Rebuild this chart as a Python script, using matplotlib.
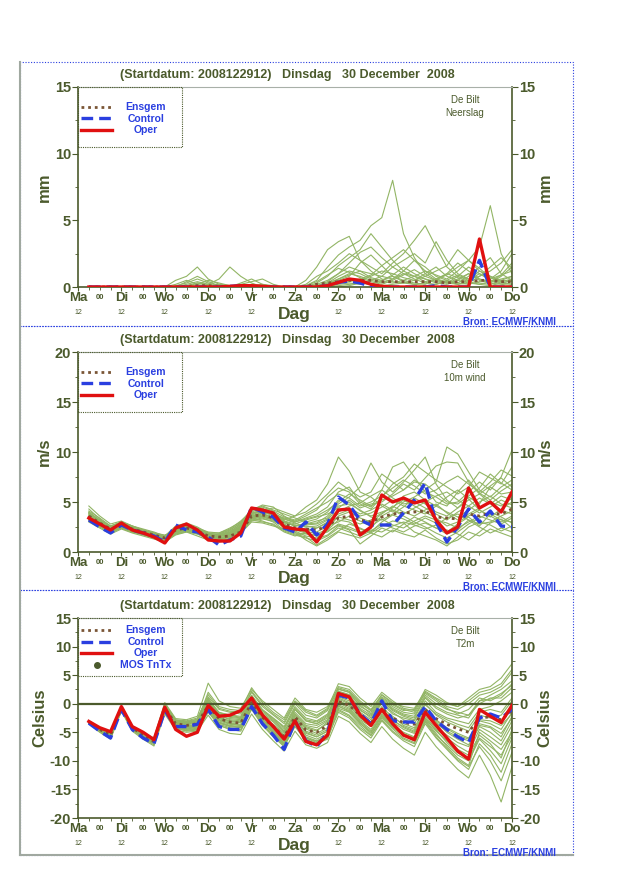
import numpy as np
import matplotlib
matplotlib.use("Agg")
import matplotlib.pyplot as plt
from matplotlib.patches import Rectangle
from matplotlib.lines import Line2D

plt.rcParams['font.family'] = ['Liberation Sans', 'DejaVu Sans']
plt.rcParams['axes.unicode_minus'] = False

# ---------------- data ----------------
hours = np.arange(6, 241, 6)          # 6-hourly steps after 2008122912
day_names = ["Ma", "Di", "Wo", "Do", "Vr", "Za", "Zo", "Ma", "Di", "Wo", "Do"]

# neerslag (mm)
rain_oper = [0, 0, 0, 0, 0, 0, 0, 0, 0, 0, 0, 0, 0, 0.05, 0.1, 0.1, 0.05, 0, 0, 0,
             0, 0, 0.1, 0.35, 0.6, 0.5, 0.2, 0.05, 0, 0, 0, 0, 0, 0, 0, 0, 3.6, 0, 0, 0]
rain_ctrl = [0, 0, 0, 0, 0, 0, 0, 0, 0, 0, 0, 0, 0, 0.05, 0.1, 0.05, 0, 0, 0, 0,
             0, 0, 0.1, 0.35, 0.45, 0.3, 0.05, 0, 0, 0, 0, 0, 0.1, 0, 0, 0, 2.0, 0, 0, 0]
rain_mean = [0, 0, 0, 0, 0, 0, 0, 0, 0, 0.05, 0.1, 0.1, 0.05, 0.05, 0.05, 0.05, 0.05, 0, 0, 0,
             0.05, 0.2, 0.3, 0.4, 0.5, 0.5, 0.5, 0.4, 0.4, 0.4, 0.4, 0.4, 0.4, 0.3, 0.4, 0.4, 0.5, 0.5, 0.4, 0.4]
rain_members = [
    [0, 0, 0, 0, 0, 0, 0, 0, 0, 0.1, 0.3, 0.1, 0, 0, 0.1, 0.2, 0.1, 0, 0, 0, 0.1, 0.5, 1.5, 2.4, 3.0, 3.5, 4.6, 5.2, 8.0, 4.0, 2.2, 1.0, 0.5, 0.3, 0.2, 0.5, 1.2, 0.8, 0.4, 0.2],
    [0, 0, 0, 0, 0, 0, 0, 0, 0.2, 0.5, 0.2, 0, 0, 0, 0, 0, 0, 0, 0, 0, 0, 0, 0.2, 0.6, 1.0, 0.8, 0.5, 0.3, 0.6, 1.0, 0.8, 0.4, 0.6, 0.9, 1.5, 2.0, 3.0, 6.1, 2.5, 1.0],
    [0, 0, 0, 0, 0, 0, 0, 0, 0, 0, 0.2, 0.5, 0.3, 0.1, 0, 0, 0, 0, 0, 0, 0.2, 0.8, 1.2, 1.8, 2.5, 2.0, 1.5, 1.0, 1.8, 2.5, 3.5, 4.6, 3.0, 1.5, 0.8, 0.5, 1.0, 0.6, 1.2, 2.5],
    [0, 0, 0, 0, 0, 0, 0, 0, 0, 0, 0, 0, 0, 0, 0.3, 0.6, 0.2, 0, 0, 0, 0, 0.3, 0.8, 1.6, 2.2, 2.8, 4.0, 3.0, 2.0, 1.2, 0.8, 0.6, 0.4, 0.3, 0.8, 1.5, 1.0, 0.5, 0.3, 0.2],
    [0, 0, 0, 0, 0, 0, 0, 0, 0, 0.4, 0.8, 0.4, 0.1, 0, 0, 0, 0, 0, 0, 0, 0.5, 1.5, 2.8, 3.4, 3.8, 2.0, 1.2, 0.6, 0.4, 0.3, 0.5, 1.0, 1.5, 0.8, 0.5, 0.3, 0.2, 0.4, 0.6, 0.8],
    [0, 0, 0, 0, 0, 0, 0, 0, 0, 0, 0, 0.2, 0.6, 1.5, 0.8, 0.3, 0, 0, 0, 0, 0, 0, 0.3, 0.6, 0.9, 1.2, 1.0, 0.8, 1.5, 2.0, 2.5, 1.8, 3.4, 2.0, 1.0, 0.6, 0.8, 1.2, 1.8, 2.8],
    [0, 0, 0, 0, 0, 0, 0, 0, 0, 0, 0, 0, 0, 0, 0, 0, 0, 0, 0, 0, 0, 0, 0.1, 0.4, 0.6, 0.5, 0.8, 1.2, 1.0, 0.7, 0.5, 0.8, 1.2, 1.6, 2.8, 2.0, 1.2, 0.8, 0.5, 0.4],
    [0, 0, 0, 0, 0, 0, 0, 0, 0.5, 0.8, 1.5, 0.6, 0.2, 0, 0, 0, 0, 0, 0, 0, 0, 0.2, 0.5, 1.0, 1.8, 2.6, 3.0, 2.2, 1.5, 1.0, 0.6, 0.3, 0.2, 0.5, 0.9, 0.6, 0.3, 0.2, 0.5, 0.8],
    [0, 0, 0, 0, 0, 0, 0, 0, 0, 0, 0, 0, 0, 0, 0.2, 0.4, 0.6, 0.2, 0, 0, 0, 0, 0, 0.2, 0.3, 0.2, 0.5, 0.8, 0.6, 1.2, 2.0, 1.5, 0.8, 0.5, 0.3, 0.8, 1.5, 2.2, 1.0, 0.5],
    [0, 0, 0, 0, 0, 0, 0, 0, 0, 0, 0, 0, 0, 0, 0, 0, 0, 0, 0, 0, 0, 0, 0, 0.1, 0.2, 0.3, 0.2, 0.1, 0.2, 0.3, 0.2, 0.1, 0.2, 0.4, 0.3, 0.2, 0.4, 0.6, 0.9, 1.2],
    [0, 0, 0, 0, 0, 0, 0, 0, 0, 0, 0.3, 0.2, 0, 0, 0, 0, 0, 0, 0, 0, 0, 0.1, 0.4, 1.0, 1.5, 1.2, 0.7, 0.5, 0.9, 1.5, 1.0, 0.6, 0.3, 0.2, 0.5, 1.0, 0.6, 0.3, 0.8, 1.5],
    [0, 0, 0, 0, 0, 0, 0, 0, 0, 0, 0, 0, 0, 0, 0, 0, 0, 0, 0, 0, 0, 0, 0, 0, 0.1, 0.3, 0.2, 0.5, 0.8, 0.5, 0.3, 0.2, 0.6, 1.0, 0.7, 0.4, 0.2, 0.1, 0.3, 0.5],
    [0, 0, 0, 0, 0, 0, 0, 0, 0, 0.2, 0.4, 0.2, 0, 0, 0, 0, 0, 0, 0, 0, 0, 0.1, 0.3, 0.8, 1.2, 1.0, 0.6, 0.4, 0.3, 0.5, 0.8, 1.2, 0.9, 0.6, 1.2, 2.0, 1.4, 0.7, 0.4, 0.6],
    [0, 0, 0, 0, 0, 0, 0, 0, 0, 0, 0, 0.1, 0.2, 0.1, 0, 0, 0, 0, 0, 0, 0, 0, 0.2, 0.5, 0.8, 1.8, 2.4, 1.6, 0.8, 0.4, 0.2, 0.3, 0.6, 0.4, 0.2, 0.3, 0.8, 1.5, 2.2, 1.4],
    [0, 0, 0, 0, 0, 0, 0, 0, 0, 0, 0, 0, 0, 0, 0, 0.1, 0.2, 0.1, 0, 0, 0, 0, 0.1, 0.3, 0.4, 0.6, 0.9, 1.6, 2.2, 2.8, 2.0, 1.2, 0.6, 0.3, 0.6, 1.0, 0.5, 0.3, 0.2, 0.1],
    [0, 0, 0, 0, 0, 0, 0, 0, 0.1, 0.3, 0.6, 0.3, 0.1, 0, 0, 0, 0, 0, 0, 0, 0.1, 0.4, 0.9, 1.4, 1.1, 0.7, 0.4, 0.2, 0.5, 0.9, 1.3, 0.8, 0.5, 1.0, 1.8, 1.2, 0.6, 0.4, 0.9, 1.8],
]

# 10m wind (m/s)
wind_oper = [3.4, 2.8, 2.2, 2.9, 2.2, 1.9, 1.5, 0.9, 2.4, 2.8, 2.2, 1.2, 1.1, 1.1, 1.9, 4.4, 4.2, 3.9, 2.5, 2.3,
             2.2, 1.0, 2.5, 4.2, 4.3, 1.7, 2.5, 5.7, 5.0, 5.4, 4.9, 5.2, 3.2, 1.9, 2.5, 6.4, 4.4, 5.0, 4.0, 6.0]
wind_ctrl = [3.2, 2.5, 1.9, 2.7, 2.2, 1.9, 1.6, 1.0, 2.7, 2.2, 2.0, 1.5, 0.7, 1.2, 1.6, 4.5, 4.0, 3.5, 2.4, 2.0,
             3.0, 1.7, 2.8, 5.5, 4.7, 3.2, 2.7, 2.7, 2.7, 3.9, 5.2, 6.9, 3.0, 1.0, 2.5, 4.3, 3.0, 4.1, 2.6, 2.5]
wind_mean = [3.6, 2.9, 2.3, 2.7, 2.3, 2.0, 1.7, 1.4, 2.2, 2.4, 2.1, 1.6, 1.5, 1.6, 2.0, 3.6, 3.7, 3.4, 2.8, 2.4,
             2.3, 2.2, 2.6, 3.4, 3.6, 3.2, 3.0, 3.5, 3.8, 3.9, 4.0, 4.1, 3.5, 3.4, 3.3, 3.8, 3.6, 3.9, 3.8, 4.3]
wind_members = [
    [3.8, 3.0, 2.4, 2.9, 2.5, 2.2, 1.8, 1.3, 2.0, 2.6, 2.4, 1.8, 1.6, 1.9, 2.6, 3.8, 4.3, 4.0, 3.2, 3.6, 4.5, 5.2, 6.8, 9.5, 8.1, 6.0, 5.5, 4.6, 4.0, 5.0, 5.5, 6.2, 7.0, 10.5, 9.8, 8.0, 6.2, 5.5, 6.5, 7.2],
    [3.3, 2.6, 2.0, 2.5, 2.1, 1.7, 1.4, 1.2, 1.9, 2.1, 1.8, 1.3, 1.0, 1.4, 2.2, 3.2, 3.4, 3.0, 2.2, 1.8, 1.5, 0.7, 1.4, 2.1, 2.8, 2.4, 1.9, 2.6, 3.1, 2.9, 2.0, 1.6, 1.2, 0.6, 1.5, 2.5, 3.0, 2.7, 2.1, 2.6],
    [4.6, 3.6, 2.8, 3.1, 2.6, 2.2, 1.9, 1.6, 2.3, 2.8, 2.4, 2.0, 1.9, 2.4, 3.0, 4.2, 4.7, 4.5, 3.6, 3.0, 3.4, 3.8, 4.5, 6.0, 6.5, 5.0, 4.5, 6.2, 8.5, 9.0, 7.5, 6.0, 5.5, 4.8, 5.0, 6.0, 7.0, 6.2, 7.5, 10.2],
    [3.0, 2.4, 1.8, 2.3, 1.9, 1.6, 1.3, 1.0, 1.7, 2.0, 1.6, 1.2, 1.3, 1.7, 2.4, 3.4, 3.1, 2.7, 2.0, 1.6, 1.9, 1.3, 1.7, 2.6, 2.2, 0.8, 1.6, 2.4, 2.0, 2.8, 3.5, 3.0, 2.4, 2.2, 1.8, 1.2, 2.0, 2.9, 3.3, 2.4],
    [3.5, 2.8, 2.2, 2.7, 2.4, 2.0, 1.5, 1.4, 2.5, 2.7, 2.2, 1.6, 1.8, 2.2, 2.9, 4.0, 4.4, 3.6, 3.0, 2.6, 2.8, 2.9, 3.6, 4.8, 5.5, 6.5, 8.9, 7.0, 6.0, 7.0, 8.2, 9.5, 6.8, 5.2, 4.4, 5.5, 4.8, 6.5, 5.8, 6.0],
    [3.9, 3.2, 2.5, 2.8, 2.3, 2.1, 1.9, 1.7, 2.1, 2.3, 2.0, 1.7, 1.6, 1.8, 2.2, 3.5, 3.9, 3.7, 3.3, 2.9, 2.5, 2.6, 3.2, 3.8, 4.2, 3.6, 3.9, 4.5, 5.2, 4.6, 4.2, 3.8, 4.6, 5.5, 6.2, 5.3, 4.2, 3.5, 4.3, 5.0],
    [3.2, 2.7, 2.1, 2.4, 2.0, 1.8, 1.6, 1.1, 2.2, 2.4, 2.1, 1.4, 1.2, 1.5, 2.6, 3.7, 3.5, 3.2, 2.6, 2.1, 1.6, 1.4, 2.2, 3.2, 3.0, 2.3, 2.0, 3.0, 3.7, 3.3, 2.8, 3.4, 2.9, 2.0, 2.8, 3.5, 2.6, 3.8, 3.2, 3.0],
    [4.1, 3.4, 2.6, 3.0, 2.5, 2.0, 1.7, 1.5, 2.4, 2.5, 2.3, 1.9, 1.7, 2.0, 2.8, 3.9, 4.0, 3.8, 3.4, 3.1, 3.6, 4.2, 5.5, 6.4, 6.0, 4.8, 4.3, 5.5, 6.8, 7.5, 8.8, 8.0, 7.2, 6.5, 5.8, 6.5, 8.0, 7.4, 6.8, 8.5],
    [3.4, 2.7, 2.3, 2.6, 2.2, 1.9, 1.6, 1.2, 2.0, 2.2, 1.9, 1.5, 1.4, 1.6, 2.0, 3.1, 3.3, 3.1, 2.5, 2.2, 2.4, 2.0, 2.6, 3.0, 3.6, 3.1, 2.6, 3.3, 2.7, 2.4, 3.1, 3.6, 3.2, 2.9, 2.4, 3.0, 3.6, 3.2, 2.8, 3.4],
    [3.7, 2.9, 2.3, 2.8, 2.4, 2.0, 1.8, 1.6, 2.6, 2.9, 2.5, 1.9, 1.9, 2.3, 3.1, 4.1, 4.6, 4.2, 3.8, 3.4, 3.0, 3.3, 4.0, 5.2, 5.0, 4.1, 3.6, 4.0, 4.4, 5.6, 6.0, 5.2, 4.6, 4.0, 3.5, 4.2, 5.0, 5.6, 4.8, 4.4],
    [3.1, 2.5, 1.9, 2.4, 2.0, 1.7, 1.5, 1.1, 1.8, 2.1, 1.9, 1.3, 1.1, 1.3, 1.9, 3.0, 2.9, 2.6, 2.3, 2.0, 1.2, 0.6, 1.2, 2.0, 1.7, 1.4, 1.9, 1.5, 2.2, 1.8, 1.5, 2.2, 1.4, 0.8, 1.2, 2.0, 1.6, 2.3, 1.9, 1.5],
    [3.6, 3.1, 2.4, 2.7, 2.3, 2.1, 1.7, 1.4, 2.3, 2.6, 2.1, 1.8, 1.5, 1.8, 2.5, 3.6, 3.8, 3.5, 2.9, 2.7, 2.6, 2.4, 3.0, 4.0, 4.6, 4.9, 5.6, 6.2, 5.4, 4.8, 5.0, 4.4, 3.8, 3.2, 4.0, 4.6, 3.9, 4.5, 5.2, 4.7],
    [4.3, 3.3, 2.5, 3.0, 2.6, 2.3, 2.0, 1.6, 2.2, 2.5, 2.2, 1.8, 1.7, 2.1, 2.7, 3.9, 4.2, 4.4, 4.0, 3.6, 4.0, 4.8, 5.8, 7.0, 6.2, 5.5, 6.0, 7.8, 7.0, 6.2, 7.2, 6.4, 5.0, 4.6, 6.0, 7.2, 5.9, 5.2, 6.1, 6.8],
    [3.3, 2.6, 2.1, 2.5, 2.1, 1.8, 1.4, 0.9, 1.9, 2.3, 2.0, 1.3, 1.0, 1.2, 1.8, 3.3, 3.6, 3.3, 2.4, 1.9, 1.8, 1.7, 2.0, 2.8, 2.5, 2.0, 2.4, 3.6, 4.2, 3.6, 3.0, 2.5, 1.9, 1.4, 2.0, 2.8, 3.4, 4.0, 3.5, 2.9],
    [3.9, 3.1, 2.6, 2.9, 2.5, 2.2, 1.8, 1.5, 2.4, 2.7, 2.3, 1.7, 1.6, 1.9, 2.4, 3.7, 4.1, 3.9, 3.1, 2.8, 3.2, 3.5, 3.8, 4.4, 5.2, 4.4, 4.8, 5.0, 5.8, 6.8, 6.2, 7.4, 8.6, 9.0, 8.9, 7.0, 5.8, 6.6, 7.4, 6.5],
    [3.5, 2.9, 2.4, 2.6, 2.3, 1.9, 1.6, 1.3, 2.1, 2.5, 2.3, 1.6, 1.4, 1.7, 2.3, 3.4, 3.9, 3.3, 2.7, 2.4, 2.1, 1.8, 2.3, 3.6, 4.0, 3.4, 3.0, 3.8, 4.6, 4.0, 3.6, 4.2, 4.8, 3.9, 3.2, 3.8, 4.4, 5.0, 4.6, 5.4],
    [4.0, 3.2, 2.6, 3.0, 2.6, 2.2, 1.9, 1.6, 2.2, 2.4, 2.2, 1.8, 1.8, 2.2, 2.9, 4.3, 4.5, 4.1, 3.5, 3.2, 3.8, 4.4, 5.0, 5.8, 5.4, 4.6, 5.0, 5.6, 6.4, 7.2, 6.6, 5.8, 6.2, 7.0, 7.6, 6.8, 6.0, 7.0, 8.2, 7.6],
    [3.2, 2.6, 2.0, 2.4, 2.0, 1.8, 1.5, 1.0, 1.8, 2.0, 1.8, 1.4, 1.2, 1.5, 2.1, 3.2, 3.0, 2.8, 2.1, 1.7, 1.4, 1.1, 1.6, 2.4, 2.0, 1.6, 2.1, 2.8, 2.4, 2.0, 2.6, 2.9, 2.4, 1.8, 2.2, 3.2, 2.5, 1.9, 2.4, 2.0],
    [3.7, 3.0, 2.4, 2.8, 2.4, 2.0, 1.7, 1.4, 2.3, 2.6, 2.2, 1.7, 1.5, 1.9, 2.5, 3.6, 4.0, 3.7, 3.1, 2.6, 2.8, 3.1, 3.4, 4.6, 4.8, 4.2, 3.5, 3.2, 3.8, 4.5, 5.4, 4.8, 4.0, 3.6, 4.4, 5.2, 5.8, 4.9, 4.2, 3.8],
    [3.4, 2.8, 2.2, 2.6, 2.2, 1.9, 1.6, 1.2, 2.2, 2.3, 2.0, 1.6, 1.3, 1.6, 2.2, 3.4, 3.6, 3.4, 2.8, 2.3, 2.0, 2.4, 2.9, 3.5, 3.2, 2.8, 3.2, 3.9, 4.5, 5.2, 4.6, 4.0, 3.4, 2.6, 3.0, 3.6, 4.2, 3.6, 3.0, 3.6],
    [3.9, 3.1, 2.5, 2.9, 2.5, 2.1, 1.8, 1.5, 2.3, 2.6, 2.3, 1.7, 1.7, 2.0, 2.6, 3.8, 4.2, 3.8, 3.3, 3.0, 3.3, 3.6, 4.2, 5.0, 5.8, 5.2, 4.6, 5.2, 5.6, 6.2, 7.0, 6.8, 5.9, 5.0, 4.8, 5.6, 6.4, 7.8, 6.9, 6.2],
    [3.3, 2.7, 2.1, 2.5, 2.1, 1.8, 1.5, 1.1, 2.0, 2.2, 1.9, 1.5, 1.3, 1.5, 2.0, 3.3, 3.5, 3.2, 2.6, 2.2, 1.9, 1.6, 2.1, 2.7, 2.3, 1.9, 2.2, 2.0, 2.6, 3.0, 2.7, 2.3, 2.7, 3.4, 3.8, 3.2, 2.8, 3.0, 3.6, 4.1],
    [3.6, 2.9, 2.3, 2.7, 2.3, 2.0, 1.7, 1.3, 2.1, 2.4, 2.1, 1.6, 1.6, 1.8, 2.3, 3.5, 3.7, 3.5, 3.0, 2.6, 2.7, 2.8, 3.3, 4.2, 4.4, 3.8, 4.2, 4.8, 4.2, 3.8, 4.4, 5.0, 5.6, 6.0, 5.2, 4.6, 5.4, 4.8, 5.6, 5.2],
]

# T2m (Celsius)
t2m_oper = [-3.1, -4.2, -4.9, -0.5, -4.0, -5.0, -6.3, -0.6, -4.5, -5.7, -5.0, -0.3, -2.2, -2.0, -1.2, 1.0, -2.0, -4.0, -6.2, -3.0,
            -6.6, -7.2, -5.5, 1.8, 1.2, -2.0, -3.8, -1.0, -3.5, -5.5, -6.3, -1.5, -3.8, -6.0, -8.3, -9.7, -1.0, -2.2, -3.3, -0.3]
t2m_ctrl = [-3.4, -4.8, -6.0, -1.0, -4.5, -6.0, -7.0, -1.2, -4.0, -4.0, -3.6, -1.0, -4.0, -4.5, -4.5, -0.5, -3.5, -5.5, -8.0, -3.0,
            -6.5, -7.5, -5.0, 1.5, 1.0, -1.8, -3.5, 0.5, -3.0, -3.2, -3.2, -0.5, -3.0, -4.5, -5.8, -6.8, -2.5, -1.8, -2.5, -1.0]
t2m_mean = [-3.2, -4.5, -5.5, -0.8, -4.2, -5.5, -6.6, -0.8, -3.5, -3.8, -3.5, -0.3, -2.6, -3.2, -3.4, 0.2, -2.4, -4.0, -5.8, -2.3,
            -4.6, -5.0, -3.8, 0.4, -0.3, -2.0, -3.4, -0.8, -2.5, -3.3, -3.6, -1.0, -2.6, -3.6, -4.4, -5.0, -2.5, -2.3, -2.8, -1.2]
t2m_members = [
    [-3.0, -4.2, -5.2, -0.5, -4.0, -5.2, -6.2, -0.2, -3.0, -3.2, -2.8, 0.8, -1.5, -2.0, -2.2, 1.5, -1.0, -2.5, -4.0, -0.5, -2.5, -3.0, -1.8, 2.5, 2.0, -0.5, -1.5, 1.0, -0.5, -1.5, -1.8, 1.5, 0.0, -1.0, -1.5, -2.0, 0.5, 1.5, 2.5, 4.0],
    [-3.4, -4.9, -6.0, -1.2, -4.6, -6.0, -7.2, -1.5, -4.2, -4.8, -4.6, -1.5, -3.8, -4.5, -4.8, -1.0, -3.8, -5.8, -7.5, -4.0, -6.5, -7.0, -6.0, -1.5, -2.5, -4.5, -6.0, -3.0, -5.0, -6.5, -7.5, -3.5, -6.0, -8.0, -10.0, -11.5, -7.0, -9.0, -12.0, -7.0],
    [-3.1, -4.4, -5.4, -0.6, -4.1, -5.4, -6.4, -0.5, -3.2, -3.5, -3.0, 2.0, -0.5, -1.0, -1.2, 2.8, 0.2, -1.5, -2.8, 0.5, -1.2, -2.0, -0.8, 3.5, 3.0, 1.0, -0.5, 2.0, 0.5, -0.8, -1.2, 2.5, 1.5, 0.2, -0.5, 1.0, 2.5, 3.0, 4.5, 7.0],
    [-3.3, -4.7, -5.8, -1.0, -4.4, -5.8, -6.9, -1.1, -3.9, -4.3, -4.0, -0.8, -3.0, -3.6, -3.8, -0.2, -2.8, -4.6, -6.5, -3.0, -5.5, -6.2, -5.2, -0.5, -1.2, -3.2, -4.8, -2.0, -3.8, -5.2, -6.0, -2.5, -4.8, -6.5, -8.0, -9.0, -5.5, -7.0, -9.5, -4.5],
    [-3.2, -4.5, -5.5, -0.7, -4.2, -5.5, -6.5, -0.6, -3.5, -3.6, -3.2, 0.2, -2.2, -2.6, -2.8, 0.8, -1.8, -3.2, -5.0, -1.5, -3.5, -3.8, -2.8, 1.8, 1.0, -1.0, -2.5, 0.0, -1.8, -2.5, -3.0, 0.5, -1.5, -2.5, -3.0, -3.5, -1.0, -0.5, 0.5, 2.0],
    [-3.5, -5.0, -6.2, -1.3, -4.8, -6.2, -7.4, -1.8, -4.6, -5.0, -4.8, -2.0, -4.5, -5.2, -5.4, -1.8, -4.5, -6.5, -8.3, -4.8, -7.2, -7.8, -6.8, -2.2, -3.2, -5.2, -6.8, -4.0, -6.2, -7.8, -9.0, -5.0, -7.5, -9.5, -11.5, -13.0, -9.0, -12.5, -17.2, -11.0],
    [-3.0, -4.3, -5.3, -0.4, -3.9, -5.1, -6.1, 0.0, -2.8, -3.0, -2.5, 1.2, -1.0, -1.5, -1.8, 2.0, -0.5, -2.0, -3.5, 0.0, -2.0, -2.5, -1.2, 3.0, 2.5, 0.5, -1.0, 1.5, 0.0, -1.0, -1.5, 2.0, 0.8, -0.5, -1.0, 0.0, 1.5, 2.0, 3.0, 5.5],
    [-3.3, -4.6, -5.7, -0.9, -4.3, -5.7, -6.8, -1.0, -3.7, -4.0, -3.8, -0.5, -2.8, -3.4, -3.6, 0.0, -2.6, -4.2, -6.0, -2.5, -4.8, -5.5, -4.5, 0.2, -0.8, -2.8, -4.0, -1.5, -3.2, -4.5, -5.2, -1.8, -4.0, -5.5, -6.8, -7.5, -4.0, -5.0, -6.5, -3.0],
    [-3.2, -4.5, -5.6, -0.8, -4.2, -5.6, -6.6, -0.7, -3.6, -3.9, -3.6, 0.5, -2.0, -2.8, -3.0, 0.5, -2.0, -3.8, -5.5, -2.0, -4.0, -4.6, -3.5, 1.0, 0.2, -1.8, -3.2, -0.5, -2.5, -3.5, -4.2, -0.8, -2.8, -4.2, -5.2, -6.0, -3.0, -3.5, -4.5, -1.5],
    [-3.1, -4.4, -5.5, -0.6, -4.1, -5.3, -6.3, -0.4, -3.3, -3.4, -3.1, 0.0, -2.4, -3.0, -3.2, 0.2, -2.4, -3.6, -5.2, -2.8, -5.0, -5.8, -4.8, 0.8, 0.0, -2.2, -3.6, -0.8, -2.2, -3.8, -4.5, -1.2, -3.2, -5.0, -6.2, -7.2, -3.8, -4.2, -5.8, -2.2],
    [-3.4, -4.8, -5.9, -1.1, -4.5, -5.9, -7.0, -1.3, -4.0, -4.5, -4.3, -1.0, -3.4, -4.0, -4.2, -0.5, -3.2, -5.0, -7.0, -3.5, -6.0, -6.8, -5.8, -1.0, -2.0, -3.8, -5.5, -2.5, -4.4, -6.0, -6.8, -3.0, -5.5, -7.2, -9.0, -10.0, -6.2, -8.2, -10.5, -6.0],
    [-3.0, -4.2, -5.1, -0.4, -3.9, -5.0, -6.0, 0.2, -2.6, -2.8, -2.2, 3.6, 0.5, -0.5, -0.8, 2.5, 0.5, -1.0, -2.5, 1.0, -1.0, -1.5, -0.5, 2.8, 2.2, 0.2, -1.2, 1.2, -0.2, -1.2, -1.0, 1.8, 0.5, -0.8, -1.8, -1.0, 1.0, 0.5, 1.5, 3.5],
    [-3.2, -4.6, -5.6, -0.7, -4.2, -5.5, -6.6, -0.8, -3.8, -4.1, -3.9, -0.2, -2.6, -3.2, -3.3, 0.4, -2.2, -4.0, -5.8, -1.0, -3.0, -3.5, -2.2, 1.5, 0.8, -1.5, -2.8, 0.5, -1.2, -2.2, -2.8, 0.0, -2.0, -3.2, -4.0, -4.8, -2.0, -2.5, -2.0, 0.5],
    [-3.3, -4.7, -5.7, -0.9, -4.4, -5.8, -6.8, -1.2, -4.4, -4.7, -4.4, -1.2, -3.6, -4.2, -4.5, -0.8, -3.5, -5.5, -7.2, -3.8, -6.2, -7.0, -6.2, -0.8, -1.5, -3.5, -5.0, -2.2, -4.0, -5.5, -6.5, -2.8, -5.2, -7.5, -9.5, -10.8, -5.0, -6.5, -8.0, -5.0],
    [-3.1, -4.3, -5.4, -0.6, -4.0, -5.3, -6.3, -0.3, -3.0, -3.3, -3.0, 1.0, -1.8, -2.2, -2.5, 1.2, -1.2, -2.8, -4.5, -1.0, -3.0, -3.5, -2.5, 2.0, 1.5, -0.8, -2.0, 0.5, -1.0, -2.0, -2.5, 1.0, -0.8, -1.8, -2.5, -2.0, 0.0, 1.0, 1.0, 2.8],
    [-3.2, -4.5, -5.5, -0.7, -4.1, -5.4, -6.4, -0.5, -3.4, -3.7, -3.4, 0.0, -2.8, -3.5, -3.8, -0.2, -2.8, -4.4, -6.2, -2.6, -4.2, -4.8, -3.2, 0.6, -0.5, -2.4, -4.0, -1.2, -3.0, -4.0, -4.8, -1.5, -3.5, -4.8, -5.8, -6.5, -3.5, -4.0, -5.2, -2.5],
    [-3.1, -4.4, -5.3, -0.6, -4.0, -5.2, -6.2, -0.4, -3.1, -3.3, -3.0, 0.4, -1.8, -2.4, -2.6, 1.0, -1.5, -3.0, -4.8, -1.8, -3.8, -4.2, -3.0, 1.2, 0.5, -1.2, -2.2, 0.2, -1.5, -2.8, -3.5, -0.2, -1.8, -2.8, -3.6, -4.2, -1.5, -1.0, -1.5, 1.0],
    [-3.3, -4.6, -5.7, -0.9, -4.3, -5.6, -6.7, -0.9, -3.9, -4.2, -4.1, -0.6, -3.2, -3.8, -4.0, -0.4, -3.0, -4.8, -6.8, -3.2, -5.8, -6.5, -5.5, -0.2, -1.0, -3.0, -4.5, -1.8, -3.6, -5.0, -5.8, -2.2, -4.4, -6.0, -7.4, -8.5, -4.5, -5.8, -7.2, -3.8],
    [-3.0, -4.3, -5.2, -0.5, -3.9, -5.1, -6.1, -0.1, -2.9, -3.1, -2.7, 1.6, -0.8, -1.3, -1.5, 2.2, -0.2, -1.8, -3.2, 0.3, -1.5, -2.2, -1.0, 2.6, 2.0, 0.0, -1.2, 1.6, 0.2, -0.5, -0.8, 2.2, 1.0, 0.0, -0.5, 0.5, 2.0, 2.5, 3.5, 6.0],
    [-3.2, -4.5, -5.6, -0.8, -4.2, -5.6, -6.5, -0.7, -3.7, -4.0, -3.7, -0.1, -2.5, -3.0, -3.2, 0.3, -2.3, -3.9, -5.6, -2.2, -4.4, -5.2, -4.2, 0.4, -0.2, -2.5, -3.8, -1.0, -2.8, -4.2, -5.0, -1.2, -3.0, -4.4, -5.5, -6.2, -2.8, -3.0, -3.8, -1.8],
    [-3.4, -4.8, -5.8, -1.0, -4.5, -5.8, -6.9, -1.2, -4.2, -4.6, -4.5, -1.3, -3.8, -4.4, -4.6, -0.8, -3.6, -5.6, -7.4, -3.6, -6.0, -6.6, -5.6, -1.2, -2.2, -4.2, -5.6, -2.8, -4.8, -6.2, -7.0, -3.2, -5.8, -7.8, -9.8, -11.0, -7.5, -10.0, -13.5, -8.5],
    [-3.1, -4.4, -5.4, -0.6, -4.1, -5.3, -6.3, -0.3, -3.2, -3.4, -3.1, 0.6, -1.6, -2.0, -2.4, 1.4, -1.2, -2.6, -4.2, -0.8, -2.8, -3.2, -2.0, 2.2, 1.6, -0.2, -1.8, 0.8, -0.8, -1.8, -2.2, 1.2, -0.5, -1.5, -2.0, -2.5, 0.5, 0.8, 1.8, 3.2],
    [-3.3, -4.7, -5.8, -1.0, -4.4, -5.7, -6.8, -1.0, -4.0, -4.4, -4.2, -0.9, -3.3, -3.9, -4.1, -0.6, -3.2, -5.2, -7.0, -3.4, -5.2, -5.8, -4.8, -0.4, -1.4, -3.4, -5.2, -2.2, -4.2, -5.6, -6.2, -2.6, -4.6, -6.8, -8.6, -9.5, -6.0, -7.5, -9.0, -5.5],
]

# ---------------- style ----------------
W, H = 640, 880
OLIVE = "#4b5a2c"
GREEN = "#92b565"
RED = "#e01010"
BLUE = "#2a3fe0"
MEANC = "#7a5535"
TITLE = "(Startdatum: 2008122912)   Dinsdag   30 December  2008"


def fx(px):
    return px / W


def fy(py):
    return 1 - py / H


fig = plt.figure(figsize=(W / 100, H / 100), dpi=100)


def legend_box(top, mos):
    # hand-made legend: rows 11.5 px apart, handles left, labels centred
    n = 4 if mos else 3
    row0 = top + (12 if mos else 20)
    bottom = top + (58 if mos else 60)
    fig.add_artist(Rectangle((fx(78), fy(bottom)), fx(182) - fx(78), (bottom - top) / H,
                             transform=fig.transFigure, fill=False, edgecolor=OLIVE,
                             lw=0.8, ls=(0, (1, 1)), zorder=10))
    styles = [dict(color=MEANC, lw=2.0, ls=(0, (1, 1.4))),
              dict(color=BLUE, lw=2.4, ls=(0, (3.5, 1.8))),
              dict(color=RED, lw=2.4, ls="-")]
    labels = ["Ensgem", "Control", "Oper", "MOS TnTx"]
    for i in range(n):
        y = fy(row0 + i * 11.5)
        if i < 3:
            fig.add_artist(Line2D([fx(81), fx(112)], [y, y], **styles[i]))
        else:
            fig.add_artist(Line2D([fx(97)], [y], color=OLIVE, marker="o", markersize=4, ls="none"))
        fig.text(fx(146), y, labels[i], color=BLUE, fontsize=7.5, fontweight="bold",
                 ha="center", va="center")


def panel(top, frame_top, frame_bot, ylim, ystep, ylabel, tag, members, mean, ctrl, oper, mos=False):
    ax = fig.add_axes([fx(78), fy(top + 200), fx(512) - fx(78), 200 / H])
    for m in members:
        ax.plot(hours, m, color=GREEN, lw=0.8, zorder=2)
    if mos:
        ax.axhline(0, color=OLIVE, lw=1.6, zorder=3)
    ax.plot(hours, mean, color=MEANC, lw=2.0, ls=(0, (1, 1.4)), zorder=4)
    ax.plot(hours, ctrl, color=BLUE, lw=2.4, ls=(0, (3.5, 1.8)), zorder=5)
    ax.plot(hours, oper, color=RED, lw=2.4, zorder=6)

    ax.set_xlim(0, 240)
    ax.set_ylim(*ylim)
    ax.set_yticks(np.arange(ylim[0], ylim[1] + 0.1, ystep))
    ax.set_yticks(np.arange(ylim[0], ylim[1] + 0.1, ystep / 2), minor=True)
    ax.set_xticks(np.arange(0, 241, 24))
    ax.set_xticks(np.arange(0, 241, 6), minor=True)
    ax.set_xticklabels([])
    ax.tick_params(axis="x", which="major", length=3, color=OLIVE)
    ax.tick_params(axis="x", which="minor", length=2, color=OLIVE)
    ax.tick_params(axis="y", which="major", length=4, color=OLIVE, labelcolor=OLIVE,
                   labelsize=10.5, pad=1, right=True, labelright=True)
    ax.tick_params(axis="y", which="minor", length=2, color=OLIVE, right=True)
    for lab in ax.get_yticklabels():
        lab.set_fontweight("bold")
    for s in ["left", "right", "bottom"]:
        ax.spines[s].set_color(OLIVE)
        ax.spines[s].set_linewidth(1.2)
    ax.spines["top"].set_color("#a8b0a8")
    ax.spines["top"].set_linestyle((0, (2, 1)))

    ax.set_ylabel(ylabel, color=OLIVE, fontsize=12, fontweight="bold", labelpad=2)
    fig.text(fx(545), fy(top + 100), ylabel, color=OLIVE, fontsize=12, fontweight="bold",
             rotation=90, ha="center", va="center")

    # day labels under the axis, "Dag" takes the place of the Za "12"
    for i, d in enumerate(day_names):
        h = i * 24
        ax.text(h, -0.025, d, transform=ax.get_xaxis_transform(), ha="center", va="top",
                color=OLIVE, fontsize=9.5, fontweight="bold")
        if i != 5:
            ax.text(h, -0.11, "12", transform=ax.get_xaxis_transform(), ha="center", va="top",
                    color=OLIVE, fontsize=5)
        if i < len(day_names) - 1:
            ax.text(h + 12, -0.035, "00", transform=ax.get_xaxis_transform(), ha="center",
                    va="top", color=OLIVE, fontsize=5.5, fontweight="bold")
    fig.text(fx(294), fy(top + 227), "Dag", color=OLIVE, fontsize=12.5, fontweight="bold",
             ha="center", va="center")
    fig.text(fx(556), fy(top + 235), "Bron: ECMWF/KNMI", color=BLUE, fontsize=7,
             fontweight="bold", ha="right", va="center")
    fig.text(fx(287), fy(top - 12), TITLE, color=OLIVE, fontsize=9, fontweight="bold",
             ha="center", va="center")
    fig.text(fx(465), fy(top + 13), "De Bilt", color=OLIVE, fontsize=7, ha="center", va="center")
    fig.text(fx(465), fy(top + 26), tag, color=OLIVE, fontsize=7, ha="center", va="center")

    legend_box(top, mos)

    # dotted blue frame around the panel
    fig.add_artist(Rectangle((fx(20), fy(frame_bot)), fx(573) - fx(20), (frame_bot - frame_top) / H,
                             transform=fig.transFigure, fill=False, edgecolor=BLUE,
                             lw=0.8, ls=(0, (1, 1.5))))
    return ax


panel(87, 62, 326, (0, 15), 5, "mm", "Neerslag", rain_members, rain_mean, rain_ctrl, rain_oper)
panel(352, 326, 590, (0, 20), 5, "m/s", "10m wind", wind_members, wind_mean, wind_ctrl, wind_oper)
panel(618, 590, 855, (-20, 15), 5, "Celsius", "T2m", t2m_members, t2m_mean, t2m_ctrl, t2m_oper, mos=True)

# grey outer edges
fig.add_artist(Line2D([fx(20), fx(20)], [fy(62), fy(855)], color="#a0a8a0", lw=1.5))
fig.add_artist(Line2D([fx(20), fx(573)], [fy(855), fy(855)], color="#a0a8a0", lw=1.5))

fig.savefig("out.png", dpi=100)
